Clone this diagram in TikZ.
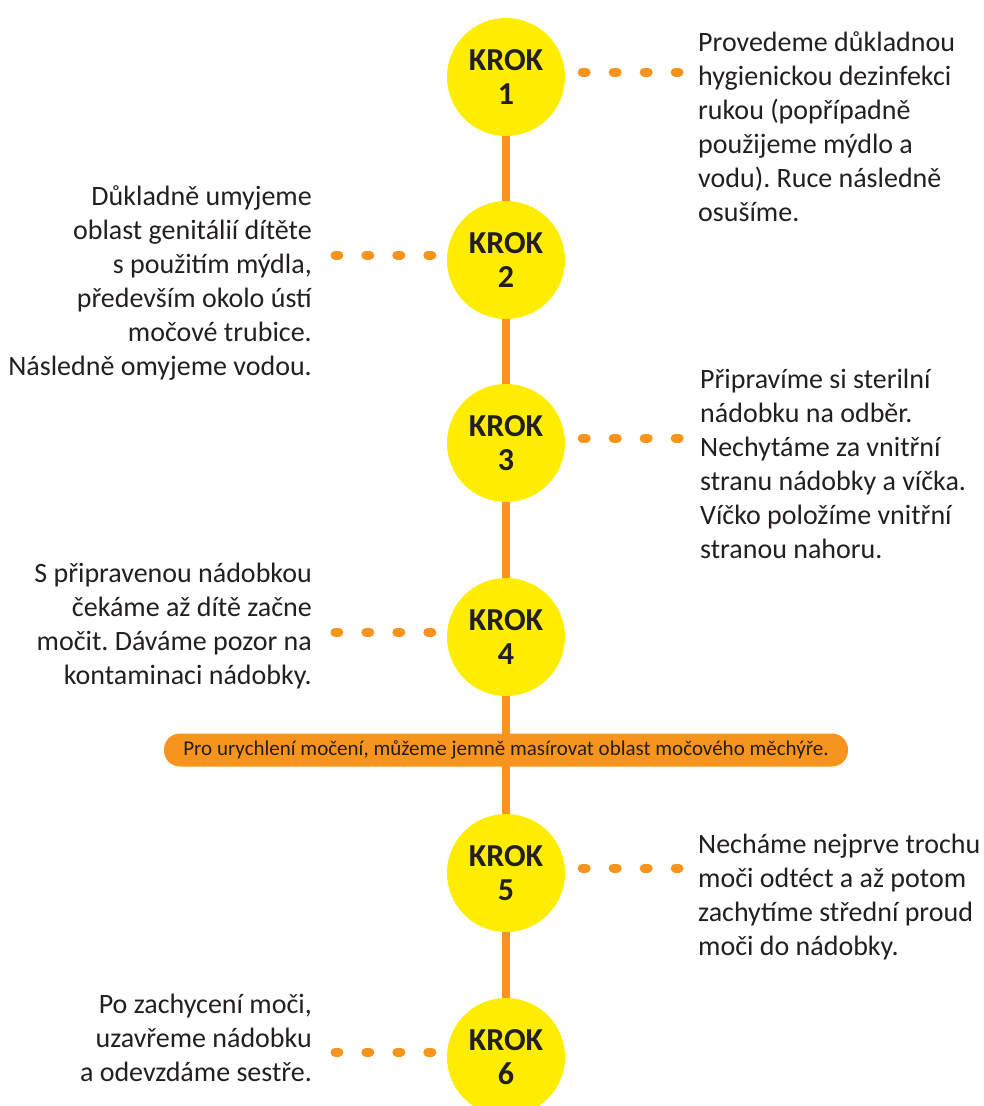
\documentclass[tikz,border=0pt]{standalone}
\usepackage{fontspec}
\setmainfont{Carlito}
\usetikzlibrary{backgrounds}
\definecolor{krokyellow}{HTML}{FFED00}
\definecolor{krokorange}{HTML}{F7941D}
\definecolor{textdark}{HTML}{231F20}
\frenchspacing
\begin{document}
\begin{tikzpicture}[x=1pt, y=-1pt,
  krok/.style={circle, fill=krokyellow, minimum size=118pt, inner sep=0pt,
    align=center, text=textdark, font=\bfseries\fontsize{32}{34}\selectfont},
  lefttext/.style={anchor=north east, align=right, inner sep=0pt,
    text=textdark, font=\fontsize{28}{34}\selectfont},
  righttext/.style={anchor=north west, align=left, inner sep=0pt,
    text=textdark, font=\fontsize{28}{34}\selectfont},
  stepdots/.style={krokorange, line width=9pt, line cap=round,
    dash pattern=on 4pt off 27pt},
  spine/.style={krokorange, line width=8pt}]
  % Page
  \useasboundingbox (0,0) rectangle (984,1106);

  % Steps
  \node[krok] (k1) at (506,  77) {KROK\\1};
  \node[krok] (k2) at (506, 260) {KROK\\2};
  \node[krok] (k3) at (506, 443) {KROK\\3};
  \node[krok] (k4) at (506, 637) {KROK\\4};
  \node[krok] (k5) at (506, 873) {KROK\\5};
  \node[krok] (k6) at (506,1057) {KROK\\6};

  % Hint
  \node[fill=krokorange, rounded corners=16pt, minimum width=684pt,
    minimum height=33pt, inner sep=0pt, text=textdark,
    font=\fontsize{21}{24}\selectfont] (tip) at (506, 750)
    {Pro urychlení močení, můžeme jemně masírovat oblast močového měchýře.};

  % Descriptions
  \node[righttext] (t1) at (698,  31) {Provedeme důkladnou\\hygienickou dezinfekci\\rukou (popřípadně\\použijeme mýdlo a\\vodu). Ruce následně\\osušíme.};
  \node[lefttext]  (t2) at (312, 185) {Důkladně umyjeme\\oblast genitálií dítěte\\s použitím mýdla,\\především okolo ústí\\močové trubice.\\Následně omyjeme vodou.};
  \node[righttext] (t3) at (700, 369) {Připravíme si sterilní\\nádobku na odběr.\\Nechytáme za vnitřní\\stranu nádobky a víčka.\\Víčko položíme vnitřní\\stranou nahoru.};
  \node[lefttext]  (t4) at (312, 563) {S připravenou nádobkou\\čekáme až dítě začne\\močit. Dáváme pozor na\\kontaminaci nádobky.};
  \node[righttext] (t5) at (698, 834) {Necháme nejprve trochu\\moči odtéct a až potom\\zachytíme střední proud\\moči do nádobky.};
  \node[lefttext]  (t6) at (312, 994) {Po zachycení moči,\\uzavřeme nádobku\\a odevzdáme sestře.};

  % Timeline
  \begin{scope}[on background layer]
    \draw[spine] (k1) -- (k6);
  \end{scope}

  % Dots
  \foreach \k in {1,3,5} {
    \draw[stepdots, shorten <=17pt, shorten >=19pt]
      ([yshift=5pt]k\k.east) -- ([yshift=5pt]k\k.east -| t\k.west);
  }
  \foreach \k in {2,4,6} {
    \draw[stepdots, shorten <=15pt, shorten >=23pt]
      ([yshift=5pt]k\k.west) -- ([yshift=5pt]k\k.west -| t\k.east);
  }
\end{tikzpicture}
\end{document}
